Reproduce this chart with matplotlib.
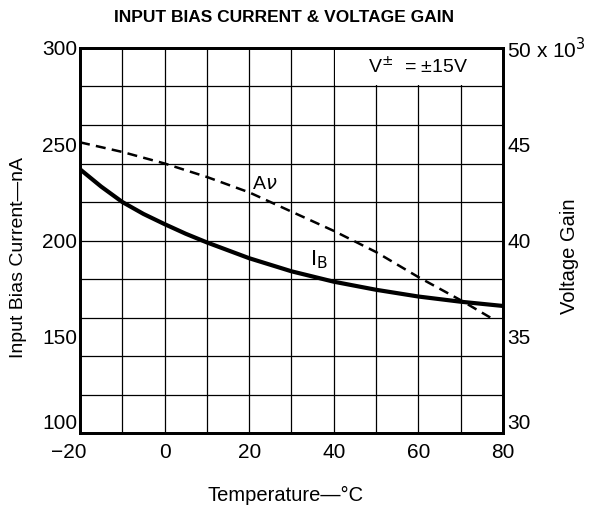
import matplotlib.pyplot as plt
from matplotlib.patches import Rectangle

plt.rcParams['font.family'] = ['Liberation Sans', 'DejaVu Sans']

# temperature (deg C)
temp_ib = [-20, -15, -10, -5, 0, 5, 10, 20, 30, 40, 50, 60, 70, 80]
# input bias current (nA)
ib = [237, 228, 220, 213.8, 208.5, 203.5, 199, 190.8, 184, 178.6, 174.4, 170.9, 168.2, 166]

temp_av = [-20, -10, 0, 10, 20, 30, 40, 50, 60, 70, 77]
# voltage gain (x 10^3)
av = [45.1, 44.6, 44.0, 43.3, 42.5, 41.5, 40.5, 39.4, 38.1, 36.9, 36.0]

left_ticks = [100, 150, 200, 250, 300]
right_ticks = [30, 35, 40, 45, 50]
right_labels = ['30', '35', '40', '45', '50 x 10$^3$']
x_ticks = [-20, 0, 20, 40, 60, 80]
x_labels = ['', '0', '20', '40', '60', '80']

fig = plt.figure(figsize=(5.91, 5.09), dpi=100)
ax = fig.add_axes([0.1354, 0.1493, 0.7156, 0.7564])

ax.set_xlim(-20, 80)
ax.set_ylim(100, 300)

# grid: every 10 deg, every 20 nA
for x in range(-10, 80, 10):
    ax.axvline(x, color='black', lw=0.9, zorder=1)
for y in range(120, 300, 20):
    ax.axhline(y, color='black', lw=0.9, zorder=1)

# blank box for the supply note
ax.add_patch(Rectangle((40.3, 280.8), 39.4, 18.9, facecolor='white', edgecolor='none', zorder=2))
ax.text(60, 290, 'V$^{\\pm}$  = \u00b115V', ha='center', va='center', fontsize=14, zorder=3)

ax.plot(temp_ib, ib, color='black', lw=3, zorder=4)

ax2 = ax.twinx()
ax2.set_ylim(30, 50)
ax2.plot(temp_av, av, color='black', lw=1.8, linestyle=(0, (4, 2.5)), zorder=4)

ax.text(23.7, 229, 'A$\\nu$', fontsize=14, ha='center', va='center', zorder=5)
ax.text(36.5, 190, 'I$_{\\rm B}$', fontsize=16, ha='center', va='center', zorder=5)

ax.set_xticks(x_ticks)
ax.set_xticklabels(x_labels, fontsize=15)
ax.set_yticks(left_ticks)
ax.set_yticklabels([str(v) for v in left_ticks], fontsize=15)
ax2.set_yticks(right_ticks)
ax2.set_yticklabels(right_labels, fontsize=15)

ax.tick_params(length=0)
ax.tick_params(axis='x', pad=7)
ax.tick_params(axis='y', pad=2)
ax2.tick_params(length=0, pad=3)

# -20 label sits a little left of its gridline, as in the original
ax.annotate('\u221220', xy=(-20, 100), xycoords='data', xytext=(-8, -7),
            textcoords='offset points', ha='center', va='top', fontsize=15,
            annotation_clip=False)

# bottom labels sit inside the axis span
ax.get_yticklabels()[0].set_va('bottom')
ax2.get_yticklabels()[0].set_va('bottom')

for a in (ax, ax2):
    for s in a.spines.values():
        s.set_linewidth(2)

ax.set_xlabel('Temperature\u2014\u00b0C', fontsize=14.5)
ax.xaxis.set_label_coords(0.485, -0.137)
ax.set_ylabel('Input Bias Current\u2014nA', fontsize=14)
ax.yaxis.set_label_coords(-0.125, 0.457)
ax2.set_ylabel('Voltage Gain', fontsize=14.5)
ax2.yaxis.set_label_coords(1.135, 0.46)

fig.text(0.48, 0.966, 'INPUT BIAS CURRENT & VOLTAGE GAIN', ha='center', va='center',
         fontsize=12.5, fontweight='bold')

fig.savefig('out.png', dpi=100)
